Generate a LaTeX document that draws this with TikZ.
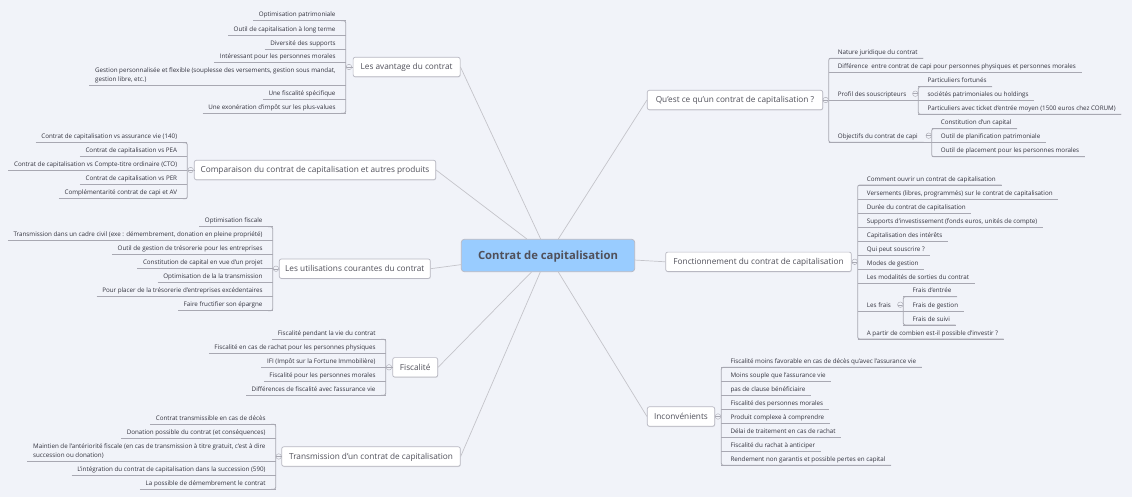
\documentclass[tikz,border=0pt]{standalone}
\usepackage{fontspec}
\setmainfont{Open Sans}
\usetikzlibrary{shadows}
\definecolor{bgcol}{HTML}{F1F3F9}
\definecolor{linecol}{HTML}{A8A8B2}
\definecolor{spokecol}{HTML}{C4C4CA}
\definecolor{boxcol}{HTML}{B8B8C2}
\definecolor{maincol}{HTML}{99CCFF}
\definecolor{inkcol}{HTML}{33333E}
\definecolor{branchink}{HTML}{50505A}
\def\leafstrut{\rule[-1.7pt]{0pt}{9pt}}
\tikzset{
  central/.style={draw=boxcol,fill=maincol,rounded corners=3,line width=.7pt,minimum width=173.4,minimum height=32.4,inner sep=0,text height=9,text depth=1.5,text=branchink,font=\fontsize{11.3}{13}\selectfont\bfseries},
  branch/.style={draw=boxcol,fill=white,rounded corners=2,line width=.7pt,minimum height=19.4,inner xsep=0,inner ysep=0,text height=7,text depth=1,text=branchink,font=\fontsize{8.25}{10}\selectfont,drop shadow={shadow xshift=.4pt,shadow yshift=-.8pt,opacity=.2,fill=gray}},
  leaf/.style={inner xsep=5.5,inner ysep=2,align=left,text=inkcol,font=\fontsize{6.25}{9}\selectfont,execute at begin node=\leafstrut,execute at end node=\leafstrut},
  leafl/.style={leaf,anchor=south east},
  leafr/.style={leaf,anchor=south west},
  twig/.style={draw=linecol,line width=.8pt},
  spoke/.style={draw=spokecol,line width=.7pt},
  knob/.style={circle,draw=linecol,fill=bgcol,line width=.4pt,minimum size=5.5,inner sep=0,path picture={\draw[linecol,line width=.4pt] (path picture bounding box.west) -- (path picture bounding box.east);}}
}
\begin{document}
\begin{tikzpicture}[x=1pt,y=-1pt]
  \fill[bgcol] (0,0) rectangle (1132,497);
  \useasboundingbox (0,0) rectangle (1132,497);
  % centre and main branches
  \node[central] (contrat) at (548,255.5) {Contrat de capitalisation};
  \node[branch,minimum width=107] (avantage) at (406.6,67) {Les avantage du contrat};
  \node[branch,minimum width=241.4] (compare) at (315,170) {Comparaison du contrat de capitalisation et autres produits};
  \node[branch,minimum width=151] (usage) at (354.8,268.7) {Les utilisations courantes du contrat};
  \node[branch,minimum width=45] (fisc) at (415.2,367.3) {Fiscalité};
  \node[branch,minimum width=178.6] (transm) at (371,456.5) {Transmission d'un contrat de capitalisation};
  \node[branch,minimum width=175.4] (quest) at (735,100) {Qu'est ce qu'un contrat de capitalisation ?};
  \node[branch,minimum width=185.6] (fonct) at (758.5,261.8) {Fonctionnement du contrat de capitalisation};
  \node[branch,minimum width=67.4] (incon) at (681,416.5) {Inconvénients};
  \draw[spoke] (contrat.114.3) -- (avantage.east);
  \draw[spoke] (contrat.142.7) -- (compare.east);
  \draw[spoke] (contrat.186.25) -- (usage.east);
  \draw[spoke] (contrat.225.4) -- (fisc.east);
  \draw[spoke] (contrat.245.7) -- (transm.east);
  \draw[spoke] (contrat.58.3) -- (quest.west);
  \draw[spoke] (contrat.-3.3) -- (fonct.west);
  \draw[spoke] (contrat.-58.3) -- (incon.west);
  % Les avantage du contrat
  \coordinate (avbrk) at (345.7,67);
  \foreach \yy/\txt [count=\i] in {20.7/Optimisation patrimoniale,35/Outil de capitalisation à long terme,49/Diversité des supports,62.7/Intéressant pour les personnes morales,85.3/{Gestion personnalisée et flexible (souplesse des versements, gestion sous mandat,\\ gestion libre, etc.)},99.3/Une fiscalité spécifique,113.3/Une exonération d'impôt sur les plus-values}{
    \node[leafl] (av\i) at (341.2,\yy) {\txt};
    \draw[twig] (av\i.south west) -- (av\i.south -| avbrk);
  }
  \draw[twig,rounded corners=2] (av1.south east) -- (av1.south -| avbrk) -- (av7.south -| avbrk) -- (av7.south east);
  \node[knob] (avknob) at (349,67) {};
  \draw[twig,line width=.4pt] (avknob) -- (avantage.west);
  % Comparaison
  \coordinate (cpbrk) at (187.3,170);
  \foreach \yy/\txt [count=\i] in {142.7/Contrat de capitalisation vs assurance vie (140),156.7/Contrat de capitalisation vs PEA,170.7/Contrat de capitalisation vs Compte-titre ordinaire (CTO),184.7/Contrat de capitalisation vs PER,198.7/Complémentarité contrat de capi et AV}{
    \node[leafl] (cp\i) at (182.8,\yy) {\txt};
    \draw[twig] (cp\i.south west) -- (cp\i.south -| cpbrk);
  }
  \draw[twig,rounded corners=2] (cp1.south east) -- (cp1.south -| cpbrk) -- (cp5.south -| cpbrk) -- (cp5.south east);
  \node[knob] (cpknob) at (190.7,170) {};
  \draw[twig,line width=.4pt] (cpknob) -- (compare.west);
  % Les utilisations courantes
  \coordinate (usbrk) at (272.7,268.7);
  \foreach \yy/\txt [count=\i] in {226.7/Optimisation fiscale,240.7/{Transmission dans un cadre civil (exe : démembrement, donation en pleine propriété)},254.7/Outil de gestion de trésorerie pour les entreprises,268.7/Constitution de capital en vue d'un projet,282.7/Optimisation de la la transmission,296.7/Pour placer de la trésorerie d'entreprises excédentaires,310.7/Faire fructifier son épargne}{
    \node[leafl] (us\i) at (268.2,\yy) {\txt};
    \draw[twig] (us\i.south west) -- (us\i.south -| usbrk);
  }
  \draw[twig,rounded corners=2] (us1.south east) -- (us1.south -| usbrk) -- (us7.south -| usbrk) -- (us7.south east);
  \node[knob] (usknob) at (276,268.7) {};
  \draw[twig,line width=.4pt] (usknob) -- (usage.west);
  % Fiscalité
  \coordinate (fibrk) at (385.7,367.3);
  \foreach \yy/\txt [count=\i] in {339.3/Fiscalité pendant la vie du contrat,353.3/Fiscalité en cas de rachat pour les personnes physiques,367.3/IFI (Impôt sur la Fortune Immobilière),381.3/Fiscalité pour les personnes morales,395.3/Différences de fiscalité avec l'assurance vie}{
    \node[leafl] (fi\i) at (381.2,\yy) {\txt};
    \draw[twig] (fi\i.south west) -- (fi\i.south -| fibrk);
  }
  \draw[twig,rounded corners=2] (fi1.south east) -- (fi1.south -| fibrk) -- (fi5.south -| fibrk) -- (fi5.south east);
  \node[knob] (fiknob) at (389,367.3) {};
  \draw[twig,line width=.4pt] (fiknob) -- (fisc.west);
  % Transmission
  \coordinate (trbrk) at (275.7,456.5);
  \foreach \yy/\txt [count=\i] in {424.3/Contrat transmissible en cas de décès,438.5/Donation possible du contrat (et conséquences),461.3/{Maintien de l'antériorité fiscale (en cas de transmission à titre gratuit, c'est à dire\\ succession ou donation)},475.3/L'intégration du contrat de capitalisation dans la succession (590),489.3/La possible de démembrement le contrat}{
    \node[leafl] (tr\i) at (271.2,\yy) {\txt};
    \draw[twig] (tr\i.south west) -- (tr\i.south -| trbrk);
  }
  \draw[twig,rounded corners=2] (tr1.south east) -- (tr1.south -| trbrk) -- (tr5.south -| trbrk) -- (tr5.south east);
  \node[knob] (trknob) at (278.7,456.5) {};
  \draw[twig,line width=.4pt] (trknob) -- (transm.west);
  % Qu'est ce
  \coordinate (qubrk) at (828.7,100);
  \coordinate (prbrk) at (918.3,93.7);
  \coordinate (obbrk) at (931.7,135.7);
  \foreach \yy/\txt/\nm in {58.3/Nature juridique du contrat/qu1,72.7/Différence\ \ entre contrat de capi pour personnes physiques et personnes morales/qu2,100.3/Profil des souscripteurs/qu3,142.3/Objectifs du contrat de capi/qu4}{
    \node[leafr] (\nm) at (832.2,\yy) {\txt};
  }
  \draw[twig] (qu1.south -| qubrk) -- (qu1.south east);
  \draw[twig] (qu2.south -| qubrk) -- (qu2.south east);
  \draw[twig] (qu3.south -| qubrk) -- (qu3.south -| prbrk);
  \draw[twig] (qu4.south -| qubrk) -- (qu4.south -| obbrk);
  \draw[twig,rounded corners=2] (qu1.south east) -- (qu1.south -| qubrk) -- (qu4.south -| qubrk) -- (qu4.south east);
  \node[knob] (quknob) at (825.7,100) {};
  \draw[twig,line width=.4pt] (quest.east) -- (quknob);
  \foreach \yy/\txt [count=\i] in {86.7/Particuliers fortunés,100.7/sociétés patrimoniales ou holdings,114.3/Particuliers avec ticket d'entrée moyen (1500 euros chez CORUM)}{
    \node[leafr] (pr\i) at (921.8,\yy) {\txt};
    \draw[twig] (pr\i.south -| prbrk) -- (pr\i.south east);
  }
  \draw[twig,rounded corners=2] (pr1.south east) -- (pr1.south -| prbrk) -- (pr3.south -| prbrk) -- (pr3.south east);
  \node[knob] (prknob) at (915.3,93.7) {};
  \foreach \yy/\txt [count=\i] in {128.7/Constitution d'un capital,142.7/Outil de planification patrimoniale,156.7/Outil de placement pour les personnes morales}{
    \node[leafr] (ob\i) at (935.2,\yy) {\txt};
    \draw[twig] (ob\i.south -| obbrk) -- (ob\i.south east);
  }
  \draw[twig,rounded corners=2] (ob1.south east) -- (ob1.south -| obbrk) -- (ob3.south -| obbrk) -- (ob3.south east);
  \node[knob] (obknob) at (928.7,135.7) {};
  % Fonctionnement
  \coordinate (fobrk) at (857.7,261.8);
  \coordinate (frbrk) at (903.3,304.7);
  \foreach \yy/\txt [count=\i] in {185/Comment ouvrir un contrat de capitalisation,199/{Versements (libres, programmés) sur le contrat de capitalisation},213/Durée du contrat de capitalisation,227/{Supports d'investissement (fonds euros, unités de compte)},241/Capitalisation des intérêts,255/Qui peut souscrire ?,269/Modes de gestion,283/Les modalités de sorties du contrat,311/Les frais,339/A partir de combien est-il possible d'investir ?}{
    \node[leafr] (fo\i) at (861.2,\yy) {\txt};
    \draw[twig] (fo\i.south -| fobrk) -- (fo\i.south east);
  }
  \draw[twig] (fo9.south east) -- (fo9.south -| frbrk);
  \draw[twig,rounded corners=2] (fo1.south east) -- (fo1.south -| fobrk) -- (fo10.south -| fobrk) -- (fo10.south east);
  \node[knob] (foknob) at (854.7,261.8) {};
  \draw[twig,line width=.4pt] (fonct.east) -- (foknob);
  \foreach \yy/\txt [count=\i] in {296.7/Frais d'entrée,311/Frais de gestion,325/Frais de suivi}{
    \node[leafr] (fr\i) at (906.8,\yy) {\txt};
    \draw[twig] (fr\i.south -| frbrk) -- (fr\i.south east);
  }
  \draw[twig,rounded corners=2] (fr1.south east) -- (fr1.south -| frbrk) -- (fr3.south -| frbrk) -- (fr3.south east);
  \node[knob] (frknob) at (900.3,304.7) {};
  % Inconvénients
  \coordinate (inbrk) at (721.3,416.5);
  \foreach \yy/\txt [count=\i] in {367.3/Fiscalité moins favorable en cas de décès qu'avec l'assurance vie,381.5/Moins souple que l'assurance vie,395.5/pas de clause bénéficiaire,409.3/Fiscalité des personnes morales,423.3/Produit complexe à comprendre,437.7/Délai de traitement en cas de rachat,451.3/Fiscalité du rachat à anticiper,465.3/Rendement non garantis et possible pertes en capital}{
    \node[leafr] (in\i) at (724.8,\yy) {\txt};
    \draw[twig] (in\i.south -| inbrk) -- (in\i.south east);
  }
  \draw[twig,rounded corners=2] (in1.south east) -- (in1.south -| inbrk) -- (in8.south -| inbrk) -- (in8.south east);
  \node[knob] (inknob) at (718,416.5) {};
  \draw[twig,line width=.4pt] (incon.east) -- (inknob);
\end{tikzpicture}
\end{document}
